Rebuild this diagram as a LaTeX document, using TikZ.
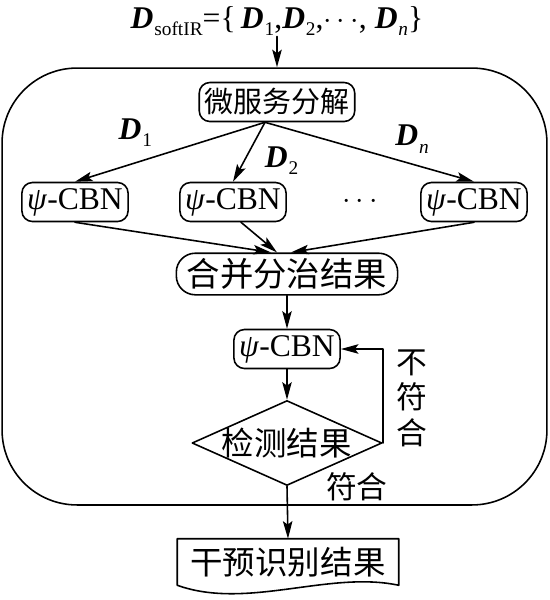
\documentclass[tikz,border=0pt]{standalone}
\usepackage{fontspec}
\setmainfont{Liberation Serif}
\newfontfamily\cjk{Noto Sans CJK SC}
\usetikzlibrary{arrows.meta, calc, shapes.geometric}
\newcommand{\Dv}[1]{\textbf{\textit{D}}\kern0.5pt\raisebox{-0.5ex}{\fontsize{11}{11}\selectfont #1}}
\newcommand{\cbn}{\textit{ψ}-CBN}
\newcommand{\fs}[1]{\fontsize{#1}{1.15\dimexpr#1pt\relax}\selectfont}

\begin{document}
\begin{tikzpicture}[x=0.02cm, y=-0.02cm, line width=0.9pt, line cap=round, line join=round,
		>={Stealth[length=10pt,width=5.4pt,inset=2pt]}, font=\fs{18},
		box/.style={draw, rounded corners=6pt, inner sep=3pt, minimum height=0.78cm}]
	\useasboundingbox (0,0) rectangle (550,600);
	\node[inner sep=0pt] (input) at (277,21) {\Dv{softIR}=\{\,\Dv{1},\Dv{2},$\cdots$, \Dv{\textit{n}}\}};
	\node[draw, rounded corners=1.5cm, minimum width=10.9cm, minimum height=8.74cm, inner sep=0pt] (frame) at (274.5,286.5) {};
	\node[box, font=\fs{16.5}] (decomp) at (277,102) {\cjk 微服务分解};
	\node[box] (cbnA) at (75,202) {\cbn};
	\node[box] (cbnB) at (233,202) {\cbn};
	\node (dots) at (360,202) {$\cdots$};
	\node[box] (cbnN) at (474,202) {\cbn};
	\node[box, rounded corners=0.38cm, inner xsep=6pt, font=\fs{19}] (merge) at (287,274) {\cjk 合并分治结果};
	\node[box] (cbnM) at (287,349) {\cbn};
	\node[draw, diamond, aspect=2.2, minimum width=3.8cm, minimum height=1.7cm, inner sep=-1pt, font=\fs{18.5}] (check) at (287,443) {\cjk 检测结果};
	\node[align=center, font=\fs{17.5}] (no) at (412,398) {\cjk 不\\\cjk 符\\\cjk 合};
	\node[font=\fs{17.5}] (yes) at (357,487) {\cjk 符合};
	\node[minimum width=4.4cm, minimum height=0.9cm, inner sep=0pt, font=\fs{18.5}] (result) at (288,562) {\cjk 干预识别结果};
	\draw (result.south west) -- (result.north west) -- (result.north east) -- (result.south east)
		.. controls ($(result.south east)+(-70,-15)$) and ($(result.south west)+(70,25)$) .. (result.south west);
	% connectors
	\coordinate (split) at ($(decomp.south)+(-12,0)$);
	\draw[->] (input.south) -- (input.south |- frame.north);
	\draw[->] (split) -- (cbnA.north) node[pos=0.55, above left=1pt] {\Dv{1}};
	\draw[->] (split) -- (cbnB.north) node[pos=0.65, right=8pt] {\Dv{2}};
	\draw[->] (split) -- (cbnN.north) node[pos=0.6, above right=-1pt] {\Dv{\textit{n}}};
	\draw[->] (cbnA.south) -- ($(merge.north)+(-16,0)$);
	\draw[->] ($(cbnB.south)+(8,0)$) -- ($(merge.north)+(-10,0)$);
	\draw[->] (cbnN.south) -- ($(merge.north)+(4,0)$);
	\draw[->] (merge) -- (cbnM);
	\draw[->] (cbnM) -- (check);
	\draw[->] (check.east) |- (cbnM.east);
	\draw[->] (check.south) -- (result.north);
\end{tikzpicture}
\end{document}
